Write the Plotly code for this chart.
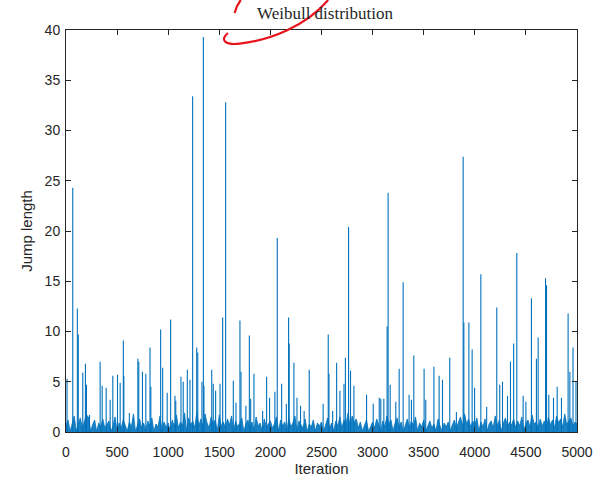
import plotly.graph_objects as go

# ---- data (approximate) ----
# low-level background values, one every 20 iterations (0..5000)
base_iter = list(range(0, 5001, 20))
base_len = [
    0.6, 1.2, 0.05, 0.9, 1.6, 0.1, 0.8, 1.4, 0.4, 1.1,
    1.7, 1.5, 0.1, 0.7, 1.2, 0.05, 0.9, 0.5, 1.3, 0.4,
    0.8, 1.1, 0.05, 0.6, 1.5, 0.1, 0.9, 0.4, 1.2, 0.7,
    0.1, 1.0, 0.5, 1.8, 0.05, 0.7, 1.3, 0.4, 0.9, 0.1,
    1.1, 0.6, 1.4, 0.05, 0.8, 0.5, 1.6, 0.1, 1.0, 0.4,
    0.9, 0.1, 1.2, 0.5, 1.7, 0.4, 1.0, 0.6, 1.9, 0.05,
    1.4, 0.7, 1.1, 0.4, 2.0, 0.6, 1.3, 0.5, 1.8, 0.9,
    0.4, 1.5, 0.8, 1.2, 0.1, 1.7, 0.6, 1.0, 0.4, 1.3,
    0.7, 1.6, 0.1, 1.1, 0.5, 0.9, 1.4, 0.05, 0.8, 1.2,
    0.4, 1.0, 0.1, 1.5, 0.6, 0.9, 0.05, 1.3, 0.5, 0.8,
    1.1, 0.4, 0.8, 1.5, 0.1, 1.2, 0.6, 1.0, 0.05, 1.4,
    0.5, 0.9, 1.6, 0.1, 1.1, 0.7, 0.4, 1.3, 0.05, 0.8,
    0.5, 1.2, 0.1, 0.9, 0.6, 1.0, 0.05, 0.7, 1.4, 0.4,
    0.9, 0.1, 1.1, 0.6, 1.5, 0.4, 1.2, 0.8, 1.9, 0.5,
    1.6, 0.9, 1.3, 0.4, 1.0, 0.1, 0.7, 1.2, 0.05, 0.6,
    1.0, 0.4, 1.3, 0.7, 0.1, 1.1, 0.5, 1.6, 0.8, 1.2,
    0.1, 0.9, 1.4, 0.5, 1.0, 0.05, 0.8, 1.3, 0.4, 1.1,
    0.6, 1.5, 0.1, 0.9, 0.5, 1.2, 0.05, 0.7, 1.1, 0.4,
    0.8, 0.1, 1.3, 0.6, 0.05, 0.9, 0.5, 1.0, 0.1, 0.7,
    1.2, 0.4, 0.9, 1.5, 0.6, 1.8, 0.8, 1.3, 0.5, 1.1,
    0.7, 1.4, 0.1, 1.0, 0.5, 1.3, 0.05, 0.8, 1.1, 0.4,
    1.6, 0.6, 1.2, 0.1, 0.9, 1.4, 0.5, 1.0, 0.7, 1.3,
    0.4, 1.1, 0.6, 1.5, 0.1, 0.9, 1.2, 0.5, 1.7, 0.8,
    1.0, 0.4, 1.3, 0.6, 1.1, 0.1, 1.5, 0.7, 1.2, 0.4,
    1.6, 0.9, 1.3, 0.5, 1.8, 0.7, 1.1, 1.4, 0.6, 1.0,
    0.8,
]

# individual larger jumps (iteration, length)
spike_iter = [
    10, 66, 111, 120, 164, 190, 200, 230, 334, 354, 393, 432, 458, 504, 530,
    561, 566, 620, 703, 712, 748, 781, 822, 830, 926, 946, 990, 1024, 1066,
    1074, 1125, 1147, 1187, 1213, 1239, 1279, 1289, 1330, 1344, 1350, 1426,
    1441, 1464, 1507, 1533, 1562, 1637, 1663, 1702, 1712, 1760, 1794, 1807,
    1839, 1924, 1963, 1992, 2044, 2067, 2110, 2156, 2178, 2184, 2230, 2260,
    2295, 2330, 2380, 2516, 2566, 2573, 2609, 2648, 2680, 2720, 2734, 2765,
    2784, 2817, 2941, 3006, 3065, 3080, 3110, 3142, 3152, 3172, 3227, 3260,
    3299, 3357, 3380, 3403, 3504, 3520, 3600, 3651, 3684, 3755, 3820, 3886,
    3893, 3942, 3974, 3998, 4059, 4116, 4215, 4244, 4271, 4320, 4349, 4380,
    4411, 4473, 4500, 4554, 4603, 4620, 4692, 4702, 4724, 4770, 4806, 4848,
    4913, 4930, 4961, 4990,
]
spike_len = [
    5.3, 24.3, 12.3, 9.7, 5.9, 6.8, 4.7, 1.7, 7.0, 4.6, 4.4, 3.2, 5.6, 5.7, 4.9,
    9.1, 5.6, 1.9, 7.3, 7.0, 6.0, 5.8, 8.4, 4.5, 10.2, 6.4, 3.9, 11.2, 3.6,
    3.1, 5.5, 5.0, 6.2, 5.2, 33.4, 8.4, 7.9, 5.0, 39.3, 4.6, 6.2,
    4.8, 4.1, 4.8, 11.4, 32.8, 5.1, 2.9, 11.1, 6.0, 2.6, 9.6, 3.3,
    5.8, 2.1, 5.5, 3.4, 4.0, 19.3, 4.8, 2.8, 11.4, 8.8, 6.9, 3.4,
    2.6, 2.1, 6.2, 2.8, 9.7, 5.8, 2.1, 6.9, 4.1, 4.8, 7.4, 20.4,
    6.1, 4.6, 3.7, 2.8, 3.4, 3.3, 3.3, 10.5, 23.8, 4.7, 3.0, 6.3,
    14.9, 3.7, 3.2, 7.6, 6.3, 3.2, 6.5, 5.6, 5.2, 7.4, 2.0, 27.4,
    10.9, 10.9, 8.2, 4.4, 15.7, 2.5, 12.4, 4.7, 5.0, 3.6, 7.0, 8.8,
    17.8, 3.6, 3.0, 13.3, 7.3, 9.4, 15.3, 14.6, 3.7, 3.4, 4.5, 3.4,
    11.8, 6.0, 8.4, 5.0,
]

x_ticks = [0, 500, 1000, 1500, 2000, 2500, 3000, 3500, 4000, 4500, 5000]
y_ticks = [0, 5, 10, 15, 20, 25, 30, 35, 40]

BLUE = "#0072BD"

# spikes drawn as thin vertical strokes (one per jump)
sx, sy = [], []
for it, v in zip(spike_iter, spike_len):
    sx += [it, it, None]
    sy += [0, v, None]

fig = go.Figure()
# dense low-level band
fig.add_trace(go.Scatter(
    x=base_iter, y=base_len, mode="lines", fill="tozeroy",
    fillcolor="rgba(0,114,189,0.9)",
    line=dict(color=BLUE, width=0.8),
    hoverinfo="skip", showlegend=False,
))
fig.add_trace(go.Scatter(
    x=sx, y=sy, mode="lines",
    line=dict(color=BLUE, width=1.1),
    hoverinfo="skip", showlegend=False,
))

axis_common = dict(
    showline=True, linecolor="#262626", linewidth=1, mirror="ticks",
    ticks="inside", ticklen=5, tickcolor="#262626", tickwidth=1,
    showgrid=False, zeroline=False, automargin=False,
    tickfont=dict(family="Liberation Sans, Arial, sans-serif", size=14, color="#262626"),
)

fig.update_xaxes(
    range=[0, 5000], tickvals=x_ticks, ticktext=[str(v) for v in x_ticks],
    ticklabelstandoff=7,
    title=dict(text="Iteration", standoff=3,
               font=dict(family="Liberation Sans, Arial, sans-serif", size=15, color="#262626")),
    **axis_common,
)
fig.update_yaxes(
    range=[0, 40], tickvals=y_ticks, ticktext=[str(v) for v in y_ticks],
    ticklabelstandoff=2,
    title=dict(text="Jump length", standoff=8,
               font=dict(family="Liberation Sans, Arial, sans-serif", size=15, color="#262626")),
    **axis_common,
)

# hand-drawn red annotation mark near the title
red_path_1 = "M 0.3420 1.0746 Q 0.3330 1.0597 0.3300 1.0423"
red_path_2 = ("M 0.317 0.9925 C 0.300 0.975 0.312 0.962 0.340 0.966 "
              "C 0.400 0.975 0.470 1.010 0.513 1.0746")
for p in (red_path_1, red_path_2):
    fig.add_shape(type="path", path=p, xref="paper", yref="paper",
                  line=dict(color="#E8141B", width=2.2), layer="above")

fig.update_layout(
    width=595, height=481,
    margin=dict(l=66, r=18, t=30, b=49),
    paper_bgcolor="white", plot_bgcolor="white",
    hovermode=False,
    title=dict(text="Weibull distribution", x=325 / 595, xanchor="center",
               xref="container", yref="container",
               y=1 - 13 / 481, yanchor="middle",
               font=dict(family="Liberation Serif, DejaVu Serif, serif", size=17, color="#262626")),
)

# remove the default page margin so the 595x481 figure fills the window exactly
fig.write_html("out.html", config={"displayModeBar": False},
               post_script="document.body.style.margin='0px';")
